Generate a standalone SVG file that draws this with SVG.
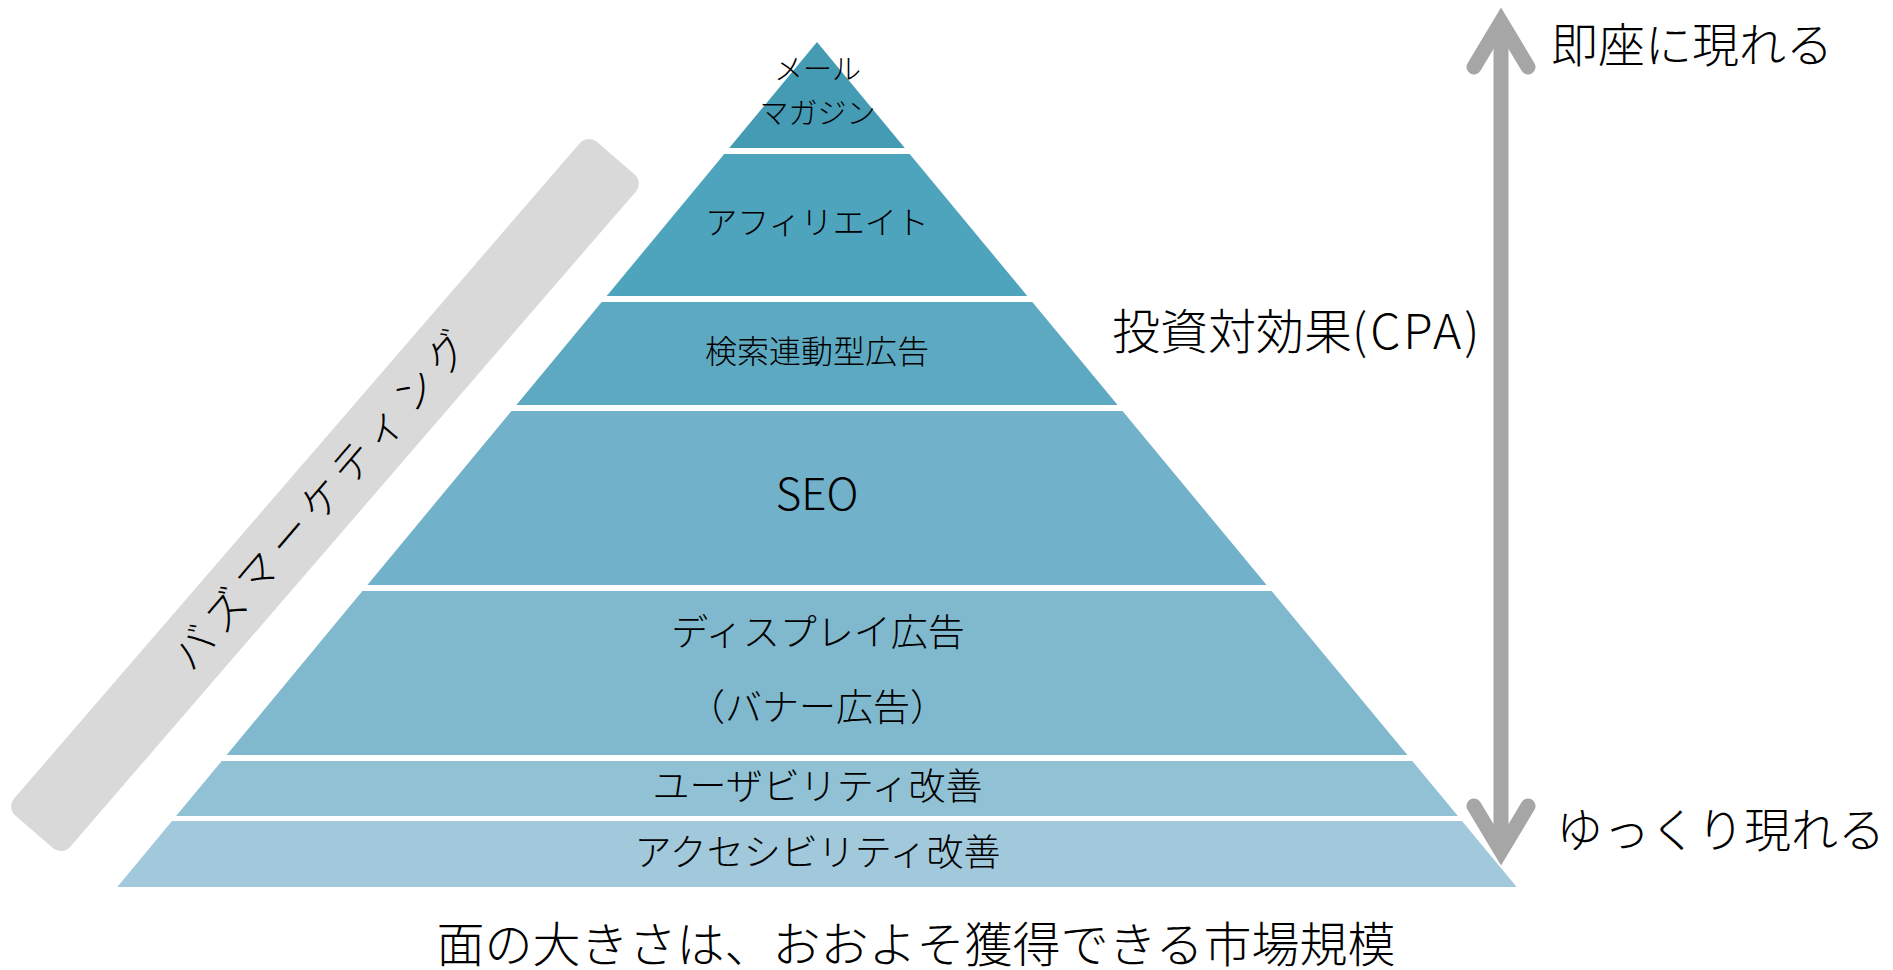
<svg xmlns="http://www.w3.org/2000/svg" width="1893" height="970" viewBox="0 0 1893 970">
<style>
  .t { font-family: "Noto Sans CJK JP", "Noto Sans", sans-serif; fill: #000; font-weight: 300; }
  .c { text-anchor: middle; }
  .layer { stroke: none; }
  .arrow { fill: none; stroke: #A6A6A6; stroke-width: 15; stroke-linecap: butt; }
  .head { fill: none; stroke: #A6A6A6; stroke-width: 15; stroke-linecap: round; stroke-linejoin: miter; stroke-miterlimit: 10; }
</style>
<rect width="1893" height="970" fill="#FFFFFF"/>

<g id="buzz-marketing">
  <rect x="-445" y="-37" width="890" height="74" rx="12" fill="#D9D9D9" transform="translate(325,495) rotate(-49.2)"/>
  <text class="t c" font-size="41" letter-spacing="8" transform="translate(323,497) rotate(-49.4)" y="15">バズマーケティング</text>
</g>

<g id="layer-mailmagazine">
  <polygon class="layer" fill="#469BB4" points="817,42 904.8,148 729.2,148"/>
  <text class="t c" x="817.5" y="80" font-size="29">メール</text>
  <text class="t c" x="817.5" y="124" font-size="29">マガジン</text>
</g>

<g id="layer-affiliate">
  <polygon class="layer" fill="#4EA3BD" points="724.3,154 909.7,154 1027.3,296 606.7,296"/>
  <text class="t c" x="817" y="233.5" font-size="32">アフィリエイト</text>
</g>

<g id="layer-listing">
  <polygon class="layer" fill="#5EA9C2" points="601.7,302 1032.3,302 1117.6,405 516.4,405"/>
  <text class="t c" x="817" y="363" font-size="32">検索連動型広告</text>
</g>

<g id="layer-seo">
  <polygon class="layer" fill="#71B1CA" points="511.5,411 1122.5,411 1266.6,585 367.4,585"/>
  <text class="t c" x="817" y="510" font-size="44">SEO</text>
</g>

<g id="layer-display">
  <polygon class="layer" fill="#80B9CE" points="362.4,591 1271.6,591 1407.4,755 226.6,755"/>
  <text class="t c" x="818" y="645.5" font-size="37">ディスプレイ広告</text>
  <text class="t c" x="817.5" y="721" font-size="37">（バナー広告）</text>
</g>

<g id="layer-usability">
  <polygon class="layer" fill="#91C1D4" points="221.7,761 1412.3,761 1457.9,816 176.1,816"/>
  <text class="t c" x="817.5" y="800" font-size="37">ユーザビリティ改善</text>
</g>

<g id="layer-accessibility">
  <polygon class="layer" fill="#A1C9DB" points="172,821 1462,821 1516.7,887 117.3,887"/>
  <text class="t c" x="817.5" y="866" font-size="37">アクセシビリティ改善</text>
</g>

<g id="connectors">
  <path class="arrow" d="M1501,30 V843"/>
  <path class="head" d="M1474,67 L1501,22 L1528,67"/>
  <path class="head" d="M1474,806 L1501,851 L1528,806"/>
</g>

<g id="label-fast">
  <text class="t" x="1551" y="62" font-size="47">即座に現れる</text>
</g>
<g id="label-cpa">
  <text class="t" x="1112" y="349" font-size="48">投資対効果<tspan letter-spacing="3">(CPA</tspan>)</text>
</g>
<g id="label-slow">
  <text class="t" x="1556" y="847" font-size="47">ゆっくり現れる</text>
</g>
<g id="caption">
  <text class="t c" x="916" y="962" font-size="48">面の大きさは、おおよそ獲得できる市場規模</text>
</g>
</svg>
